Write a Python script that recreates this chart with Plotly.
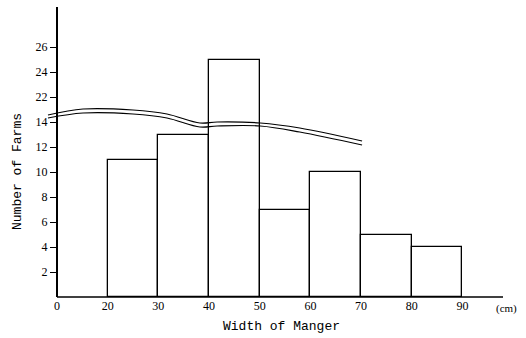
import plotly.graph_objects as go

# ---- data (real units) ----
bin_left = [20, 30, 40, 50, 60, 70, 80]
bin_width = 10
counts = [11, 13, 25, 7, 10, 5, 4]
x_tick_labels = [0, 20, 30, 40, 50, 60, 70, 80, 90]
y_tick_labels = [2, 4, 6, 8, 10, 12, 14, 22, 24, 26]

# broken-axis settings
X_GAP = 10      # the 0..20 span is drawn as 10 units
Y_BREAK = 14    # values above this are shifted down
Y_GAP = 6       # 22 is drawn where 16 would be

# break-mark curves (display units)
brk_x = [-1.78, 5.13, 15.0, 21.7, 28.2, 31.6, 40.1, 47.9, 60.2]
brk_upper = [14.56, 15.04, 14.96, 14.64, 13.92, 14.0, 13.92, 13.52, 12.48]
brk_lower = [14.32, 14.72, 14.64, 14.32, 13.6, 13.68, 13.68, 13.2, 12.16]


def dx(v):
    return v if v < 20 else v - X_GAP


def dy(v):
    return v if v <= Y_BREAK else v - Y_GAP


fig = go.Figure()
fig.add_trace(go.Bar(
    x=[dx(b) + bin_width / 2 for b in bin_left],
    y=[dy(c) for c in counts],
    width=bin_width,
    marker=dict(color="white", line=dict(color="black", width=1.3)),
    hoverinfo="skip",
))
for yy in (brk_upper, brk_lower):
    fig.add_trace(go.Scatter(
        x=brk_x, y=yy, mode="lines", line=dict(color="black", width=1.2, shape="spline"),
        hoverinfo="skip",
    ))

W, H = 526, 338
ml, mr, mt, mb = 44, 23, 7, 41
pw = W - ml - mr
ph = H - mt - mb
px_per_x = 5.068
px_per_y = 12.5
x_left_px = 13
xmin = -x_left_px / px_per_x
xmax = (pw - x_left_px) / px_per_x

font = dict(family="Liberation Serif", size=12, color="black")

fig.update_layout(
    width=W, height=H,
    margin=dict(l=ml, r=mr, t=mt, b=mb),
    paper_bgcolor="white", plot_bgcolor="white",
    showlegend=False, bargap=0,
    font=font,
    xaxis=dict(
        domain=[0, 1], range=[xmin, xmax],
        tickvals=[dx(v) for v in x_tick_labels],
        ticktext=[str(v) for v in x_tick_labels],
        ticks="", showgrid=False, zeroline=False, showline=False,
        tickfont=font,
    ),
    yaxis=dict(
        anchor="free", position=x_left_px / pw,
        range=[0, ph / px_per_y],
        tickvals=[dy(v) for v in y_tick_labels],
        ticktext=[str(v) for v in y_tick_labels],
        ticks="outside", ticklen=6, tickwidth=1, tickcolor="black",
        showgrid=False, zeroline=False,
        showline=True, linecolor="black", linewidth=2,
        tickfont=font,
    ),
    shapes=[
        dict(type="line", xref="x", yref="paper", x0=0, x1=xmax, y0=0, y1=0,
             line=dict(color="black", width=1.5)),
    ],
    annotations=[
        dict(text="Number of Farms", textangle=-90, xref="paper", yref="paper",
             x=(17 - ml) / pw, y=(297 - 172) / ph, xanchor="center", yanchor="middle",
             showarrow=False,
             font=dict(family="Liberation Mono", size=13, color="black")),
        dict(text="Width of Manger", xref="paper", yref="paper",
             x=(281 - ml) / pw, y=(297 - 326) / ph, xanchor="center", yanchor="middle",
             showarrow=False,
             font=dict(family="Liberation Mono", size=13, color="black")),
        dict(text="(cm)", xref="paper", yref="paper",
             x=(506 - ml) / pw, y=(297 - 308) / ph, xanchor="center", yanchor="middle",
             showarrow=False,
             font=dict(family="Liberation Serif", size=11, color="black")),
    ],
)

fig.write_html("out.html")
